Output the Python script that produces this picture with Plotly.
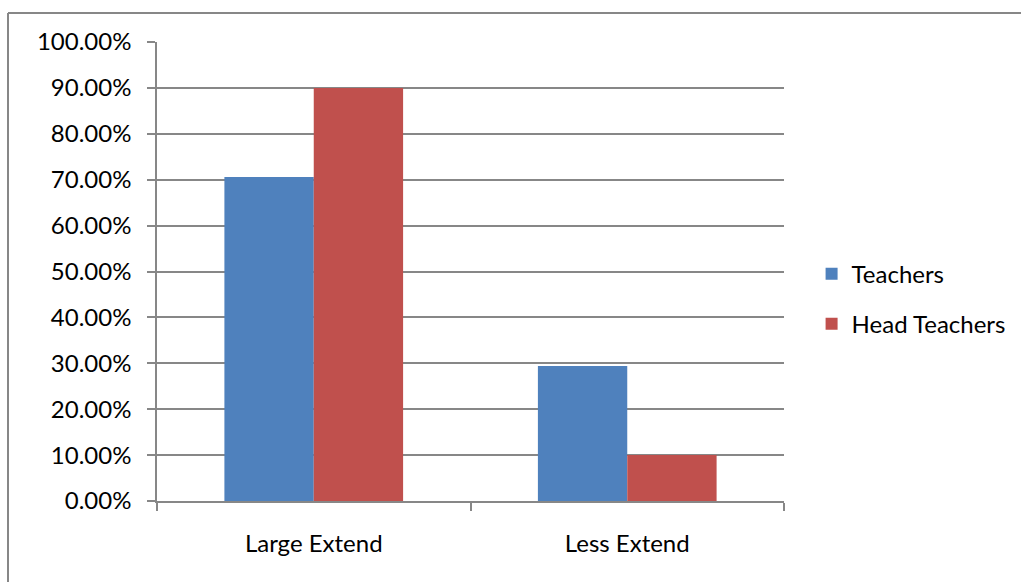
import plotly.graph_objects as go

categories = ["Large Extend", "Less Extend"]
teachers = [0.706, 0.294]
head_teachers = [0.90, 0.10]
y_ticks = [i / 10 for i in range(11)]

W, H = 1021, 582
FONT = "Lato"
GRID = "#878787"

fig = go.Figure()
fig.add_trace(go.Bar(name="Teachers", x=categories, y=teachers,
                     marker=dict(color="#4F81BD", line=dict(width=0)),
                     legendgroup="a"))
fig.add_trace(go.Bar(name="Head Teachers", x=categories, y=head_teachers,
                     marker=dict(color="#C0504D", line=dict(width=0)),
                     legendgroup="b"))

fig.update_layout(
    width=W, height=H,
    margin=dict(l=157, r=237, t=42, b=81, autoexpand=False),
    paper_bgcolor="white", plot_bgcolor="white",
    barmode="group", bargap=0.43, bargroupgap=0,
    font=dict(family=FONT, size=24, color="#000000"),
    showlegend=True,
    legend=dict(x=1.044, y=0.44, xanchor="left", yanchor="middle",
                traceorder="grouped", tracegroupgap=16,
                font=dict(family=FONT, size=24, color="#000000"),
                itemwidth=30, bgcolor="rgba(0,0,0,0)"),
    xaxis=dict(showgrid=False, showline=True, linecolor=GRID, linewidth=1.5,
               ticks="outside", ticklen=8, tickcolor=GRID, tickwidth=1.5,
               tickson="boundaries", ticklabelstandoff=20,
               tickfont=dict(family=FONT, size=24)),
    yaxis=dict(range=[0, 1], tickvals=y_ticks, tickformat=".2%",
               showgrid=True, gridcolor=GRID, gridwidth=1.5,
               showline=True, linecolor=GRID, linewidth=1.5,
               ticks="outside", ticklen=8, tickcolor=GRID, tickwidth=1.5,
               ticklabelstandoff=11, zeroline=False,
               tickfont=dict(family=FONT, size=24)),
    shapes=[
        dict(type="line", xref="paper", yref="paper",
             x0=(8 - 157) / 627, x1=(1021 - 157) / 627,
             y0=(501 - 13) / 459, y1=(501 - 13) / 459,
             line=dict(color=GRID, width=2)),
        dict(type="line", xref="paper", yref="paper",
             x0=(8 - 157) / 627, x1=(8 - 157) / 627,
             y0=(501 - 13) / 459, y1=(501 - 582) / 459,
             line=dict(color=GRID, width=2)),
    ],
)

fig.write_html("out.html")
